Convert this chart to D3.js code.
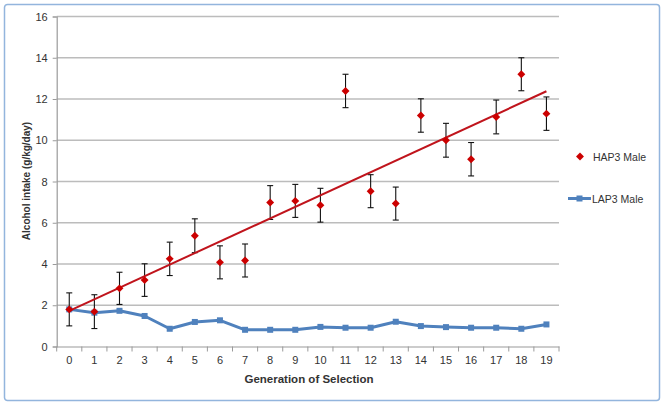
<!DOCTYPE html>
<html><head><meta charset="utf-8">
<script src="https://cdn.jsdelivr.net/npm/d3@7"></script>
<style>body{margin:0;background:#fff;}svg{display:block;}</style>
</head><body>
<script>
const generations = d3.range(0, 20).map(String);
const hapValues = [1.80,1.69,2.82,3.22,4.25,5.37,4.08,4.17,6.98,7.06,6.85,12.39,7.53,6.93,11.20,10.00,9.08,11.13,13.20,11.29];
const hapErrors = [0.80,0.82,0.78,0.79,0.81,0.82,0.80,0.80,0.82,0.80,0.82,0.81,0.80,0.80,0.81,0.82,0.81,0.82,0.80,0.81];
const lapValues = [1.80,1.64,1.73,1.48,0.86,1.19,1.27,0.81,0.81,0.81,0.95,0.91,0.91,1.20,0.99,0.94,0.91,0.91,0.86,1.07];
const yTicks = [0,2,4,6,8,10,12,14,16];
const seriesNames = ["HAP3 Male","LAP3 Male"];

const W=664,H=405;
const svg=d3.select("body").append("svg").attr("width",W).attr("height",H);
const font="'Liberation Sans', Arial, sans-serif";

svg.append("rect").attr("x",4.5).attr("y",4.5).attr("width",655).attr("height",396)
  .attr("rx",3).attr("fill","#fff").attr("stroke","#93b5dd").attr("stroke-width",1.5);

const L=56.7,R=559,T=16.5,B=346.5;
const x=d3.scaleBand().domain(generations).range([L,R]);
const y=d3.scaleLinear().domain([0,16]).range([B,T]);
const cx=i=>x(generations[i])+x.bandwidth()/2;

// gridlines
svg.append("g").selectAll("line").data(yTicks.filter(d=>d>0)).join("line")
  .attr("x1",L).attr("x2",R).attr("y1",d=>y(d)).attr("y2",d=>y(d))
  .attr("stroke","#bcbcbc").attr("stroke-width",1.5);

// y axis
const ya=svg.append("g").attr("transform",`translate(${L},0)`)
  .call(d3.axisLeft(y).tickValues(yTicks).tickSize(4).tickPadding(5));
ya.select(".domain").attr("stroke","#9a9a9a").attr("stroke-width",1.2);
ya.selectAll(".tick line").attr("stroke","#9a9a9a");
ya.selectAll("text").attr("font-family",font).attr("font-size",11).attr("fill","#333");

// x axis
const xa=svg.append("g").attr("transform",`translate(0,${B})`)
  .call(d3.axisBottom(x).tickSize(0).tickPadding(10));
xa.select(".domain").attr("stroke","#9a9a9a").attr("stroke-width",1.2);
xa.selectAll("text").attr("font-family",font).attr("font-size",11).attr("fill","#333");
svg.append("g").selectAll("line").data(d3.range(0,21)).join("line")
  .attr("x1",i=>L+i*x.step()).attr("x2",i=>L+i*x.step())
  .attr("y1",B).attr("y2",B+5).attr("stroke","#9a9a9a");

// titles
svg.append("text").attr("x",309).attr("y",383).attr("text-anchor","middle")
  .attr("font-family",font).attr("font-size",11.5).attr("font-weight","bold").attr("fill","#333")
  .text("Generation of Selection");
svg.append("text").attr("transform","translate(30,181) rotate(-90)").attr("text-anchor","middle")
  .attr("font-family",font).attr("font-size",10).attr("font-weight","bold").attr("fill","#333")
  .text("Alcohol intake (g/kg/day)");

// LAP3 line
const line=d3.line().x((d,i)=>cx(i)).y(d=>y(d));
svg.append("path").datum(lapValues).attr("d",line).attr("fill","none")
  .attr("stroke","#4f81bd").attr("stroke-width",3).attr("stroke-linejoin","round");
svg.append("g").selectAll("rect").data(lapValues).join("rect")
  .attr("x",(d,i)=>cx(i)-3).attr("y",d=>y(d)-3).attr("width",6).attr("height",6)
  .attr("fill","#4f81bd");

// error bars
const eb=svg.append("g").attr("stroke","#111").attr("stroke-width",1.1);
hapValues.forEach((v,i)=>{
  const e=hapErrors[i];
  eb.append("line").attr("x1",cx(i)).attr("x2",cx(i)).attr("y1",y(v+e)).attr("y2",y(v-e));
  eb.append("line").attr("x1",cx(i)-3).attr("x2",cx(i)+3).attr("y1",y(v+e)).attr("y2",y(v+e));
  eb.append("line").attr("x1",cx(i)-3).attr("x2",cx(i)+3).attr("y1",y(v-e)).attr("y2",y(v-e));
});

// trend line (linear regression)
const xs=d3.range(hapValues.length);
const mx=d3.mean(xs),my=d3.mean(hapValues);
const slope=d3.sum(xs,(xi,i)=>(xi-mx)*(hapValues[i]-my))/d3.sum(xs,xi=>(xi-mx)**2);
const icpt=my-slope*mx;
svg.append("line").attr("x1",cx(0)).attr("x2",cx(19))
  .attr("y1",y(icpt)).attr("y2",y(icpt+slope*19))
  .attr("stroke","#c0141c").attr("stroke-width",2);

// HAP3 diamonds
const diamond=d3.symbol().type(d3.symbolDiamond2).size(40);
svg.append("g").selectAll("path").data(hapValues).join("path")
  .attr("d",diamond).attr("transform",(d,i)=>`translate(${cx(i)},${y(d)})`)
  .attr("fill","#cc0000");

// legend
svg.append("path").attr("d",diamond).attr("transform","translate(580,156.5)").attr("fill","#cc0000");
svg.append("text").attr("x",593).attr("y",160.5).attr("font-family",font).attr("font-size",10.5)
  .attr("fill","#333").text(seriesNames[0]);
svg.append("line").attr("x1",568).attr("x2",591).attr("y1",198.5).attr("y2",198.5)
  .attr("stroke","#4f81bd").attr("stroke-width",3);
svg.append("rect").attr("x",576.5).attr("y",195.5).attr("width",6).attr("height",6).attr("fill","#4f81bd");
svg.append("text").attr("x",592).attr("y",202.5).attr("font-family",font).attr("font-size",10.5)
  .attr("fill","#333").text(seriesNames[1]);
</script>
</body></html>
